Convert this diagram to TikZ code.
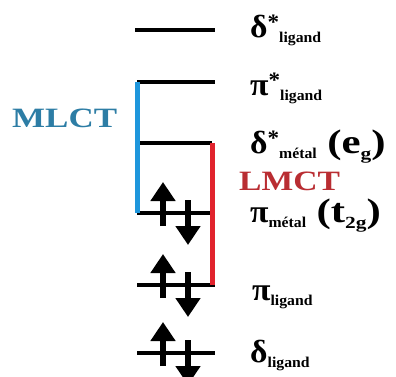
\documentclass[tikz,border=0pt]{standalone}
\usepackage{fontspec}
\setmainfont{Liberation Serif}
\usepackage{graphicx}
\usetikzlibrary{arrows.meta}

\definecolor{mlctblue}{RGB}{30,150,220}
\definecolor{mlcttext}{RGB}{45,125,165}
\definecolor{lmctred}{RGB}{225,35,45}
\definecolor{lmcttext}{RGB}{185,45,50}

% orbital label: symbol, superscript, subscript, tail
\newcommand{\orb}[4]{\scalebox{1.05}[1]{\bfseries\fontsize{32}{32}\selectfont #1\raisebox{8pt}{\fontsize{22}{22}\selectfont #2}\raisebox{-5pt}{\fontsize{15}{15}\selectfont #3}#4}}
\newcommand{\tail}[2]{\hspace{10pt}\scalebox{1.2}[1]{\fontsize{34}{34}\selectfont (#1\raisebox{-6pt}{\fontsize{17}{17}\selectfont #2})}}

\begin{document}
\begin{tikzpicture}[x=1pt, y=-1pt,
  orbline/.style={line width=3.5pt},
  elec/.style={line width=5.5pt, -{Triangle[width=24pt,length=19pt]}},
  ctline/.style={line width=5pt},
  lbl/.style={anchor=base west, inner sep=0pt},
  ctlbl/.style={anchor=base west, inner sep=0pt, font=\bfseries\fontsize{28}{28}\selectfont}]

  \useasboundingbox (0,0) rectangle (396,376);

  % --- 1. niveaux ---
  \coordinate (dsLa) at (135,30);  \coordinate (dsLb) at (215,30);
  \coordinate (psLa) at (137,82);  \coordinate (psLb) at (215,82);
  \coordinate (dsMa) at (140,143); \coordinate (dsMb) at (212,143);
  \coordinate (pMa)  at (137,213); \coordinate (pMb)  at (212,213);
  \coordinate (pLa)  at (137,285); \coordinate (pLb)  at (215,285);
  \coordinate (dLa)  at (137,353); \coordinate (dLb)  at (215,353);

  \foreach \a/\b in {dsLa/dsLb, psLa/psLb, dsMa/dsMb, pMa/pMb, pLa/pLb, dLa/dLb}
    \draw[orbline] (\a) -- (\b);

  % --- 2. electrons ---
  \foreach \y in {213,285,353} {
    \draw[elec] (163,\y+13) -- (163,\y-31);
    \draw[elec] (188,\y-13) -- (188,\y+32);
  }

  % --- 3. transferts de charge ---
  \draw[ctline, mlctblue] (psLa) -- (pMa);
  \draw[ctline, lmctred] (dsMb) -- (dsMb |- pLb);
  \node[ctlbl, text=mlcttext] (mlct) at (12,127) {\scalebox{1.25}[1]{MLCT}};
  \node[ctlbl, text=lmcttext] (lmct) at (239,190) {\scalebox{1.2}[1]{LMCT}};

  % --- 4. etiquettes ---
  \node[lbl] (dsl) at (250,37)  {\orb{δ}{*}{ligand}{}};
  \node[lbl] (psl) at (250,95)  {\orb{π}{*}{ligand}{}};
  \node[lbl] (dsm) at (250,153) {\orb{δ}{*}{métal}{\tail{e}{g}}};
  \node[lbl] (pm)  at (250,222) {\orb{π}{}{métal}{\tail{t}{2g}}};
  \node[lbl] (pl)  at (252,300) {\orb{π}{}{ligand}{}};
  \node[lbl] (dl)  at (250,362) {\orb{δ}{}{ligand}{}};

\end{tikzpicture}
\end{document}
